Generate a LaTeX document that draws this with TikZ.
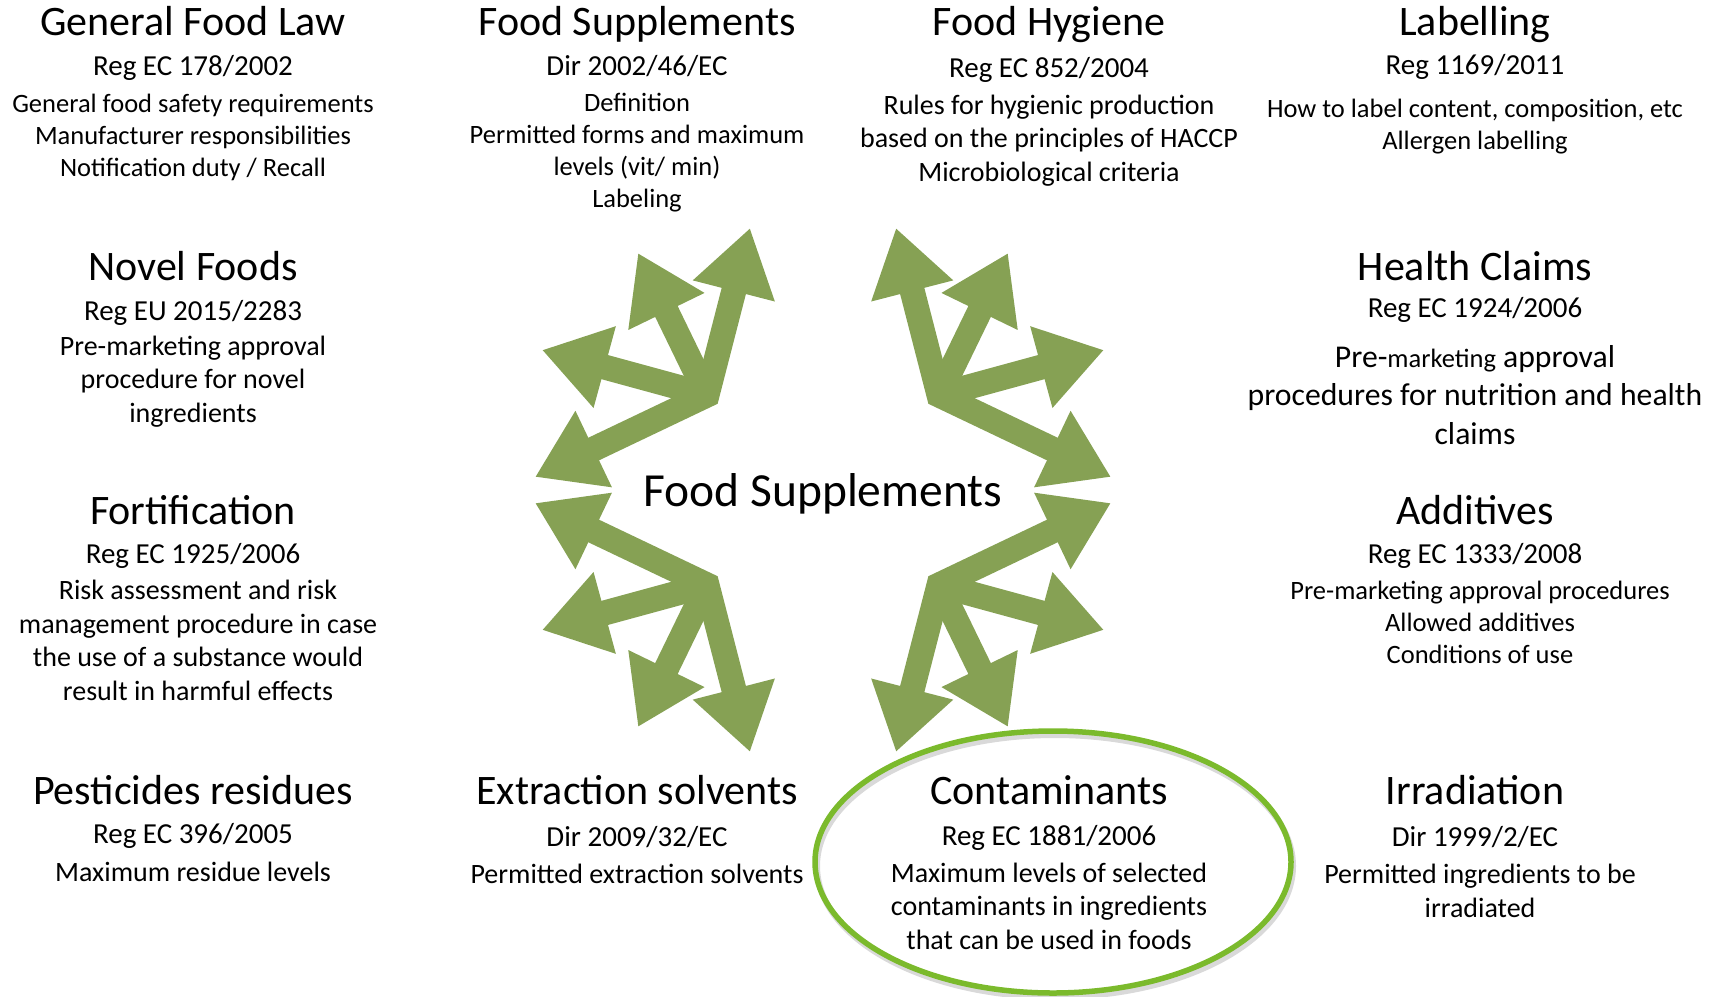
\documentclass[tikz,border=0pt]{standalone}
\usepackage{fontspec}
\setmainfont{Carlito}
\usetikzlibrary{arrows.meta,positioning}

\definecolor{arrowgreen}{HTML}{86A154}
\definecolor{ringgreen}{HTML}{7BBA2C}

\begin{document}
\begin{tikzpicture}[x=1pt, y=-1pt,
    lawtitle/.style={anchor=base, inner sep=0pt, font=\fontsize{42}{50}\selectfont},
    lawref/.style={anchor=base, inner sep=0pt, font=\fontsize{29}{35}\selectfont},
    lawsmall/.style={anchor=base, inner sep=0pt, align=center, font=\fontsize{26.5}{32}\selectfont},
    lawtext/.style={anchor=base, inner sep=0pt, align=center, font=\fontsize{28}{33.5}\selectfont},
    lawbig/.style={anchor=base, inner sep=0pt, align=center, font=\fontsize{31.7}{38.5}\selectfont},
    branch/.style={line width=25pt, draw=arrowgreen, line join=miter, -{Triangle[width=80pt,length=65pt]}},
    twoway/.style={branch, {Triangle[width=80pt,length=65pt]}-{Triangle[width=80pt,length=65pt]}}]
  \useasboundingbox (0,0) rectangle (1723,996);

  % the four arrow bunches, mirrored round the middle
  \foreach \sx/\sy in {1/1, -1/1, 1/-1, -1/-1}{
    \begin{scope}[shift={(823,490)}, xscale=\sx, yscale=\sy]
      \coordinate (hub) at (-116,-95);
      \draw[twoway] (-288,-13) -- (hub) -- (-73,-262);
      \draw[branch] (hub) -- (-281,-140);
      \draw[branch] (hub) -- (-185,-237);
    \end{scope}
  }

  %ring round contaminants
  \draw[black!25, line width=6pt, opacity=0.6] (1055,866) ellipse [x radius=238, y radius=131];
  \draw[ringgreen, line width=5.5pt] (1053,862) ellipse [x radius=238, y radius=131];

  \node[font=\fontsize{47.5}{57}\selectfont, anchor=base, inner sep=0pt] (fs) at (823,506) {Food Supplements};

  % multi-line texts are placed by the baseline of their last line
  %general food law
  \node[lawtitle] (gfl) at (193,35) {General Food Law};
  \node[lawref] (gflref) at (193,75) {Reg EC 178/2002};
  \node[lawsmall] (gfltext) at (193,176) {General food safety requirements\\Manufacturer responsibilities\\Notification duty / Recall};

  %food supplements directive
  \node[lawtitle] (fsd) at (637,35) {Food Supplements};
  \node[lawref] (fsdref) at (637,75) {Dir 2002/46/EC};
  \node[lawsmall] (fsdtext) at (637,207) {Definition\\Permitted forms and maximum\\levels (vit/ min)\\Labeling};

  %food hygiene
  \node[lawtitle] (hyg) at (1049,35) {Food Hygiene};
  \node[lawref] (hygref) at (1049,77) {Reg EC 852/2004};
  \node[lawtext] (hygtext) at (1049,181) {Rules for hygienic production\\based on the principles of HACCP\\Microbiological criteria};

  %labelling
  \node[lawtitle] (lab) at (1475,35) {Labelling};
  \node[lawref] (labref) at (1475,74) {Reg 1169/2011};
  \node[lawsmall] (labtext) at (1475,149) {How to label content, composition, etc\\Allergen labelling};

  %novel foods
  \node[lawtitle] (nf) at (193,280) {Novel Foods};
  \node[lawref] (nfref) at (193,320) {Reg EU 2015/2283};
  \node[lawtext] (nftext) at (193,422) {Pre-marketing approval\\procedure for novel\\ingredients};

  %health claims
  \node[lawtitle] (hc) at (1475,280) {Health Claims};
  \node[lawref] (hcref) at (1475,317) {Reg EC 1924/2006};
  \node[lawbig] (hctext) at (1475,444) {Pre-{\fontsize{26.5}{32}\selectfont marketing} approval\\procedures for nutrition and health\\claims};

  %fortification
  \node[lawtitle] (fort) at (193,524) {Fortification};
  \node[lawref] (fortref) at (193,563) {Reg EC 1925/2006};
  \node[lawtext] (forttext) at (198,700) {Risk assessment and risk\\management procedure in case\\the use of a substance would\\result in harmful effects};

  %additives
  \node[lawtitle] (add) at (1475,524) {Additives};
  \node[lawref] (addref) at (1475,563) {Reg EC 1333/2008};
  \node[lawsmall] (addtext) at (1480,663) {Pre-marketing approval procedures\\Allowed additives\\Conditions of use};

  %pesticides
  \node[lawtitle] (pest) at (193,804) {Pesticides residues};
  \node[lawref] (pestref) at (193,843) {Reg EC 396/2005};
  \node[lawtext] (pesttext) at (193,881.5) {Maximum residue levels};

  %extraction solvents
  \node[lawtitle] (ext) at (637,804) {Extraction solvents};
  \node[lawref] (extref) at (637,846) {Dir 2009/32/EC};
  \node[lawtext] (exttext) at (637,883.5) {Permitted extraction solvents};

  %contaminants
  \node[lawtitle] (cont) at (1049,804) {Contaminants};
  \node[lawref] (contref) at (1049,845) {Reg EC 1881/2006};
  \node[lawtext] (conttext) at (1049,949) {Maximum levels of selected\\contaminants in ingredients\\that can be used in foods};

  %irradiation
  \node[lawtitle] (irr) at (1475,804) {Irradiation};
  \node[lawref] (irrref) at (1475,846) {Dir 1999/2/EC};
  \node[lawtext] (irrtext) at (1480,917) {Permitted ingredients to be\\irradiated};
\end{tikzpicture}
\end{document}
